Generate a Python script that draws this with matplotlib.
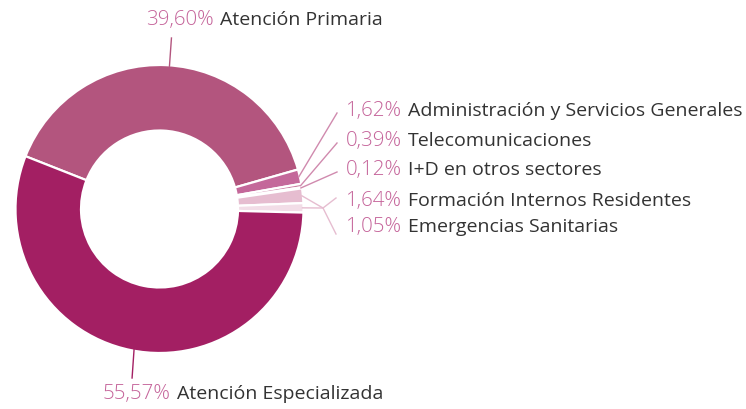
import numpy as np
import matplotlib
matplotlib.use('Agg')
import matplotlib.pyplot as plt

# ── data ──────────────────────────────────────────────────────────────────────
labels = ['Atención Primaria', 'Administración y Servicios Generales',
          'Telecomunicaciones', 'I+D en otros sectores',
          'Formación Internos Residentes', 'Emergencias Sanitarias',
          'Atención Especializada']
values = [39.60, 1.62, 0.39, 0.12, 1.64, 1.05, 55.57]
colors = ['#B3557E', '#C4689A', '#CB7FA3', '#D79BB8', '#E6BDD0', '#F2DDE7',
          '#A31F63']

PCT_COL  = '#C5649A'
NAME_COL = '#333333'
FONT     = 'Open Sans'
W, H     = 746, 409

# label anchors (left x of the percentage, centre y), pixel space, y down
label_pos = [(146, 20), (346, 111), (346, 141), (346, 170),
             (346, 201), (346, 227), (103, 394)]

fig = plt.figure(figsize=(W / 100, H / 100), dpi=100)
ax = fig.add_axes([0, 0, 1, 1])

cx, cy, R = 159.5, H - 209, 144
wedges, _ = ax.pie(values, colors=colors, startangle=158.5, counterclock=False,
                   center=(cx, cy), radius=R, frame=True,
                   wedgeprops=dict(width=R * 0.455, edgecolor='white',
                                   linewidth=1.6))
ax.set_xlim(0, W)
ax.set_ylim(0, H)
ax.set_aspect('equal')
ax.axis('off')

fig.canvas.draw()
renderer = fig.canvas.get_renderer()

for i, (w, lab, val) in enumerate(zip(wedges, labels, values)):
    mid = np.deg2rad((w.theta1 + w.theta2) / 2)
    x0, y0 = cx + (R - 1) * np.cos(mid), cy + (R - 1) * np.sin(mid)
    lx, ly = label_pos[i]
    ly = H - ly
    line_col = colors[i] if i in (0, 6) else '#D08AAE'

    if i == 0:
        ax.plot([x0 + 3, x0 + 5], [y0, ly - 18], color=line_col, lw=1)
    elif i == 6:
        ax.plot([x0 + 3, x0 + 1], [y0, ly + 16], color=line_col, lw=1)
    elif i in (4, 5):
        # shared elbow for the two lowest small slices
        ex, ey = 323, H - 208
        ax.plot([x0, ex, lx - 10], [y0, ey, ly + (3 if i == 4 else -7)],
                color='#E6BDD0', lw=1)
    else:
        ax.plot([x0, lx - 9], [y0, ly - 2], color=line_col, lw=1)

    t = ax.text(lx, ly, f'{val:.2f}%'.replace('.', ','), color=PCT_COL,
                fontsize=14.8, family=FONT, weight='light', va='center',
                ha='left')
    bb = t.get_window_extent(renderer)
    ax.text(bb.x1 + 6, ly, lab, color=NAME_COL, fontsize=14, family=FONT,
            va='center', ha='left')

fig.savefig('out.png', dpi=100)
